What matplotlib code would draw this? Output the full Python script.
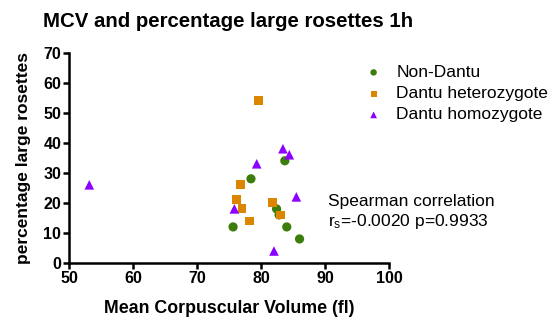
import matplotlib
matplotlib.use("Agg")
import matplotlib.pyplot as plt

################ Data ################

# Non-Dantu (green circles)
nonDantuMCV = [83.7, 78.4, 82.4, 82.8, 84.0, 75.6, 86.0]
nonDantuPct = [34, 28, 18, 16, 12, 12, 8]

# Dantu heterozygote (orange squares)
heteroMCV = [79.6, 76.8, 76.1, 77.0, 78.2, 81.8, 83.0]
heteroPct = [54, 26, 21, 18, 14, 20, 16]

# Dantu homozygote (purple triangles)
homoMCV = [53.1, 83.4, 84.4, 79.3, 85.5, 75.8, 82.0]
homoPct = [26, 38, 36, 33, 22, 18, 4]

xTicks = [50, 60, 70, 80, 90, 100]
yTicks = [0, 10, 20, 30, 40, 50, 60, 70]

################ Plot ################

plt.rcParams['font.family'] = ['Liberation Sans', 'DejaVu Sans']

fig = plt.figure(figsize=(5.55, 3.27), dpi=100)
ax = fig.add_axes([0.1252, 0.1957, 0.5757, 0.6437])

ax.scatter(nonDantuMCV, nonDantuPct, marker='o', s=44, color='#3c7d0c',
           edgecolors='none', label="Non-Dantu", zorder=3)
ax.scatter(heteroMCV, heteroPct, marker='s', s=40, color='#dc8600',
           edgecolors='none', label="Dantu heterozygote", zorder=3)
ax.scatter(homoMCV, homoPct, marker='^', s=48, color='#8c00ff',
           edgecolors='none', label="Dantu homozygote", zorder=3)

ax.set_xlim(50, 100)
ax.set_ylim(0, 70)
ax.set_xticks(xTicks)
ax.set_yticks(yTicks)

for side in ['top', 'right'] :
    ax.spines[side].set_visible(False)
for side in ['left', 'bottom'] :
    ax.spines[side].set_linewidth(1.8)
ax.tick_params(direction='out', length=4, width=1.8, labelsize=11.5, pad=2)
for lab in ax.get_xticklabels() + ax.get_yticklabels() :
    lab.set_fontweight('bold')

ax.set_xlabel("Mean Corpuscular Volume (fl)", fontsize=12.8, fontweight='bold', labelpad=10)
ax.set_ylabel("percentage large rosettes", fontsize=12.5, fontweight='bold', labelpad=9)
fig.text(0.0775, 0.9165, "MCV and percentage large rosettes 1h", fontsize=14.7,
         fontweight='bold', va='baseline')

ax.legend(loc='upper left', bbox_to_anchor=(0.645, 0.823), bbox_transform=fig.transFigure,
          borderaxespad=0, frameon=False, fontsize=12.5, handlelength=1.0,
          handletextpad=0.8, labelspacing=0.35, markerscale=0.7)

fig.text(0.591, 0.383, "Spearman correlation", fontsize=12.5, va='center')
fig.text(0.591, 0.322, "$\\mathregular{r_s}$=-0.0020 p=0.9933", fontsize=12.5, va='center')

fig.savefig("out.png", dpi=100)
